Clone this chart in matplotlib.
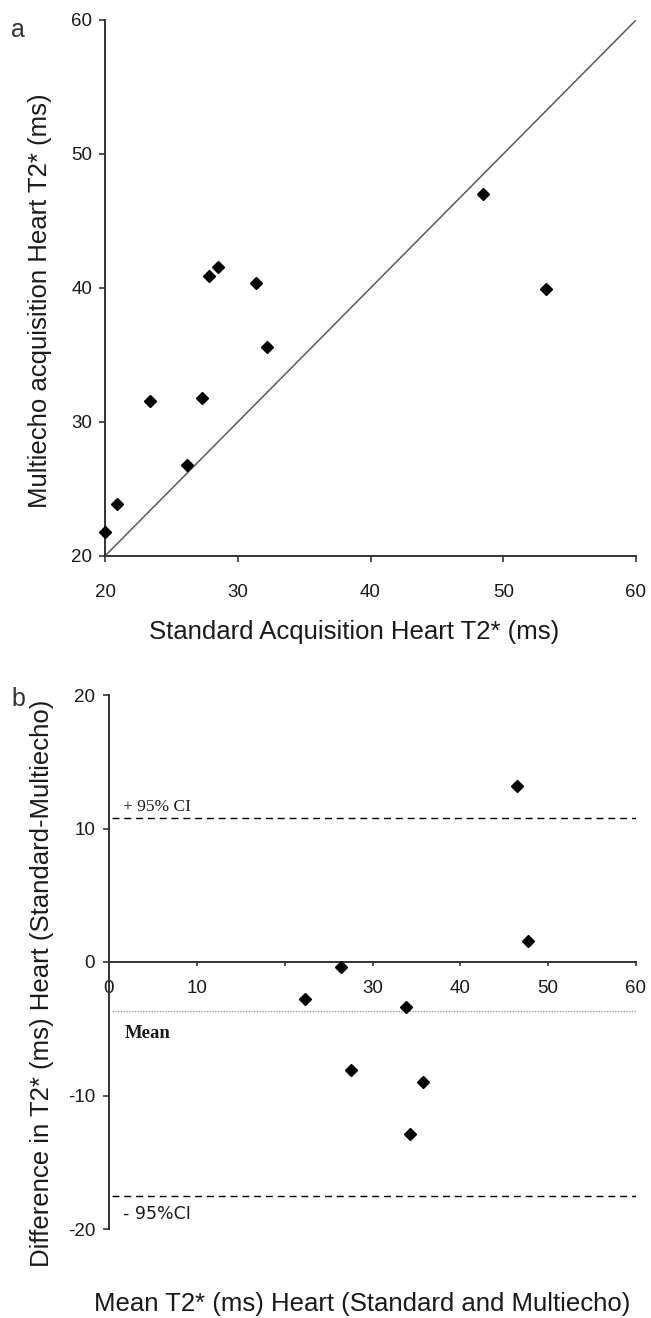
"""
T2* heart: standard vs multiecho acquisition (a) and Bland-Altman plot (b).
"""

import matplotlib
matplotlib.use("Agg")
import matplotlib.pyplot as plt

plt.rcParams["font.family"] = ["Liberation Sans", "DejaVu Sans"]

# ── data: panel a ──────────────────────────────────────────────
standard_t2 = [48.5, 53.2, 27.8, 28.5, 31.4, 32.2, 23.4, 27.3, 26.2, 20.9, 20.0]
multiecho_t2 = [47.0, 39.9, 40.9, 41.6, 40.4, 35.6, 31.6, 31.8, 26.8, 23.9, 21.8]
identity = [20, 60]
a_ticks = [20, 30, 40, 50, 60]

# ── data: panel b ──────────────────────────────────────────────
mean_t2 = [46.5, 47.7, 26.4, 22.3, 33.8, 27.6, 35.8, 34.3]
diff_t2 = [13.2, 1.6, -0.4, -2.8, -3.4, -8.1, -9.0, -12.9]
upper_ci = 10.8
mean_diff = -3.7
lower_ci = -17.5
b_xticks = [0, 10, 20, 30, 40, 50, 60]
b_xticklabels = ["0", "10", "", "30", "40", "50", "60"]
b_yticks = [-20, -10, 0, 10, 20]

W, H = 651, 1318
fig = plt.figure(figsize=(W / 100, H / 100), dpi=100)

tick_font = {"size": 13.5}
label_size = 18.5
spine_col = "#333333"
text_col = "#1a1a1a"


def fx(px):
    return px / W


def fy(py):
    return 1 - py / H


# ── panel a ────────────────────────────────────────────────────
ax1 = fig.add_axes([fx(105), fy(556), (636 - 105) / W, (556 - 20) / H])
ax1.plot(identity, identity, color="#5a5a5a", linewidth=1.1)
ax1.plot(standard_t2, multiecho_t2, linestyle="none", marker="D", markersize=6.5,
         color="black", clip_on=False, zorder=3)
ax1.set_xlim(20, 60)
ax1.set_ylim(20, 60)
ax1.set_xticks(a_ticks)
ax1.set_yticks(a_ticks)
ax1.set_xticklabels([str(t) for t in a_ticks], fontdict=tick_font)
ax1.set_yticklabels([str(t) for t in a_ticks], fontdict=tick_font)
for s in ["top", "right"]:
    ax1.spines[s].set_visible(False)
for s in ["left", "bottom"]:
    ax1.spines[s].set_color(spine_col)
    ax1.spines[s].set_linewidth(1.4)
ax1.tick_params(direction="out", length=4, width=1.2, color=spine_col,
                labelcolor=text_col, pad=5)
ax1.tick_params(axis="x", pad=16)
fig.text(fx(354), fy(632), "Standard Acquisition Heart T2* (ms)", fontsize=label_size,
         color=text_col, ha="center", va="center")
fig.text(fx(40), fy(301), "Multiecho acquisition Heart T2* (ms)", fontsize=label_size,
         color=text_col, ha="center", va="center", rotation=90)
fig.text(fx(18), fy(30), "a", fontsize=18, color="#333333", ha="center", va="center")

# ── panel b ────────────────────────────────────────────────────
ax2 = fig.add_axes([fx(109), fy(1229), (636 - 109) / W, (1229 - 695) / H])
dash = (0, (5, 3.5))
ax2.axhline(upper_ci, xmin=0.006, color="black", linestyle=dash, linewidth=1.0)
ax2.axhline(lower_ci, xmin=0.006, color="black", linestyle=dash, linewidth=1.0)
ax2.axhline(mean_diff, xmin=0.006, color="#9a9a9a", linestyle=(0, (1, 1)), linewidth=1.0)
ax2.plot(mean_t2, diff_t2, linestyle="none", marker="D", markersize=6.5, color="black",
         zorder=3)
ax2.set_xlim(0, 60)
ax2.set_ylim(-20, 20)
ax2.spines["bottom"].set_position(("data", 0))
for s in ["top", "right"]:
    ax2.spines[s].set_visible(False)
for s in ["left", "bottom"]:
    ax2.spines[s].set_color(spine_col)
    ax2.spines[s].set_linewidth(1.4)
ax2.set_xticks(b_xticks)
ax2.set_xticklabels(b_xticklabels, fontdict=tick_font)
ax2.set_yticks(b_yticks)
ax2.set_yticklabels([str(t) for t in b_yticks], fontdict=tick_font)
ax2.tick_params(direction="out", length=4, width=1.2, color=spine_col,
                labelcolor=text_col, pad=6)
ax2.tick_params(axis="x", length=3, pad=10)
fig.text(fx(42), fy(983), "Difference in T2* (ms) Heart (Standard-Multiecho)",
         fontsize=label_size, color=text_col, ha="center", va="center", rotation=90)
fig.text(fx(362), fy(1304), "Mean T2* (ms) Heart (Standard and Multiecho)",
         fontsize=label_size, color=text_col, ha="center", va="center")

serif = ["Liberation Serif", "DejaVu Serif"]
fig.text(fx(123), fy(807), "+ 95% CI", family=serif, fontsize=12.5, va="center",
         color=text_col)
fig.text(fx(125), fy(1034), "Mean", family=serif, fontsize=13.5, va="center",
         color=text_col, fontweight="semibold")
fig.text(fx(123), fy(1214), "- 95%CI", family=["DejaVu Sans"], fontsize=12.5, va="center",
         color=text_col)
fig.text(fx(18), fy(699), "b", fontsize=18, color="#333333", ha="center", va="center")

fig.savefig("out.png", dpi=100)
